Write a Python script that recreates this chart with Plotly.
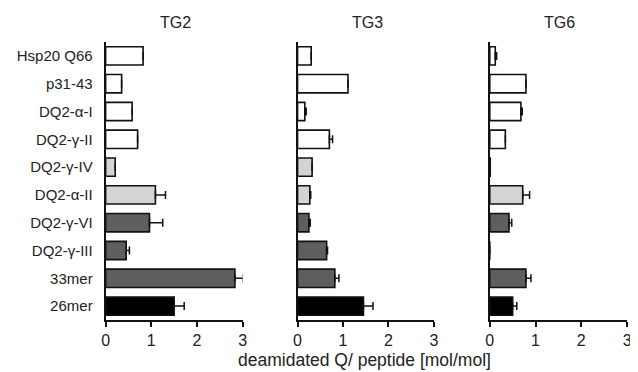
import plotly.graph_objects as go

categories = ["Hsp20 Q66", "p31-43", "DQ2-α-I", "DQ2-γ-II", "DQ2-γ-IV",
              "DQ2-α-II", "DQ2-γ-VI", "DQ2-γ-III", "33mer", "26mer"]
tg2 = [0.82, 0.35, 0.58, 0.70, 0.21, 1.09, 0.96, 0.45, 2.83, 1.50]
tg2_err = [0, 0, 0, 0, 0, 0.22, 0.29, 0.07, 0.18, 0.22]
tg3 = [0.30, 1.11, 0.16, 0.70, 0.32, 0.27, 0.25, 0.64, 0.82, 1.45]
tg3_err = [0, 0, 0.03, 0.07, 0, 0.02, 0.03, 0.02, 0.09, 0.21]
tg6 = [0.12, 0.79, 0.68, 0.34, 0.01, 0.72, 0.42, 0.0, 0.79, 0.50]
tg6_err = [0.03, 0, 0.03, 0, 0, 0.15, 0.06, 0, 0.11, 0.09]
bar_colors = ["#ffffff", "#ffffff", "#ffffff", "#ffffff", "#d4d4d4",
              "#d4d4d4", "#5e5e5e", "#5e5e5e", "#5e5e5e", "#000000"]
panel_titles = ["TG2", "TG3", "TG6"]
x_ticks = [0, 1, 2, 3]

# page body has an 8px margin, so the figure is drawn 8px smaller and offset
W, H = 630, 364
T, B = 34, 52
plot_h = H - T - B
px_dom = [(95, 234), (289.7, 428), (484.7, 624)]
domains = [(a / W, b / W) for a, b in px_dom]

fig = go.Figure()
series = [(tg2, tg2_err), (tg3, tg3_err), (tg6, tg6_err)]
font = dict(family="Liberation Sans, Arial, sans-serif", color="#222222")

for i, (vals, errs) in enumerate(series):
    sfx = "" if i == 0 else str(i + 1)
    fig.add_trace(go.Bar(
        x=vals, y=list(range(len(categories))), orientation="h",
        marker=dict(color=bar_colors, line=dict(color="#111111", width=1.6)),
        width=0.66,
        error_x=dict(type="data", array=errs, arrayminus=[0] * len(errs),
                     symmetric=False, color="#111111", thickness=1.5, width=4),
        xaxis="x" + sfx, yaxis="y" + sfx, showlegend=False,
    ))
    ax = dict(domain=list(domains[i]), range=[0, 3], tickvals=x_ticks,
              showgrid=False, zeroline=False, showline=True, linecolor="#111111",
              linewidth=2, ticks="outside", ticklen=5, tickwidth=2, tickcolor="#111111",
              tickfont=dict(size=16, **font), anchor="y" + sfx, fixedrange=True)
    ay = dict(range=[9.5, -0.5], tickvals=list(range(len(categories))),
              ticktext=categories, showticklabels=(i == 0),
              showgrid=False, zeroline=False, showline=True, linecolor="#111111",
              linewidth=2, ticks="", tickfont=dict(size=15, **font),
              ticklabelstandoff=8, anchor="x" + sfx, domain=[0, 1])
    fig.update_layout(**{"xaxis" + sfx: ax, "yaxis" + sfx: ay})

annotations = []
for i, t in enumerate(panel_titles):
    cx = ((px_dom[i][0] + px_dom[i][1]) / 2 + 1.5) / W
    annotations.append(dict(text=t, x=cx, y=(H - B - 14.3) / plot_h, xref="paper", yref="paper",
                            showarrow=False, font=dict(size=16, **font),
                            xanchor="center", yanchor="middle"))
annotations.append(dict(text="deamidated Q/ peptide [mol/mol]", x=357.5 / W,
                        y=(H - B - 351.5) / plot_h, xref="paper", yref="paper",
                        showarrow=False, font=dict(size=17.5, **font),
                        xanchor="center", yanchor="middle"))

fig.update_layout(width=W, height=H, margin=dict(l=0, r=0, t=T, b=B),
                  paper_bgcolor="white", plot_bgcolor="white",
                  bargap=0.34, annotations=annotations)

fig.write_html("out.html")
